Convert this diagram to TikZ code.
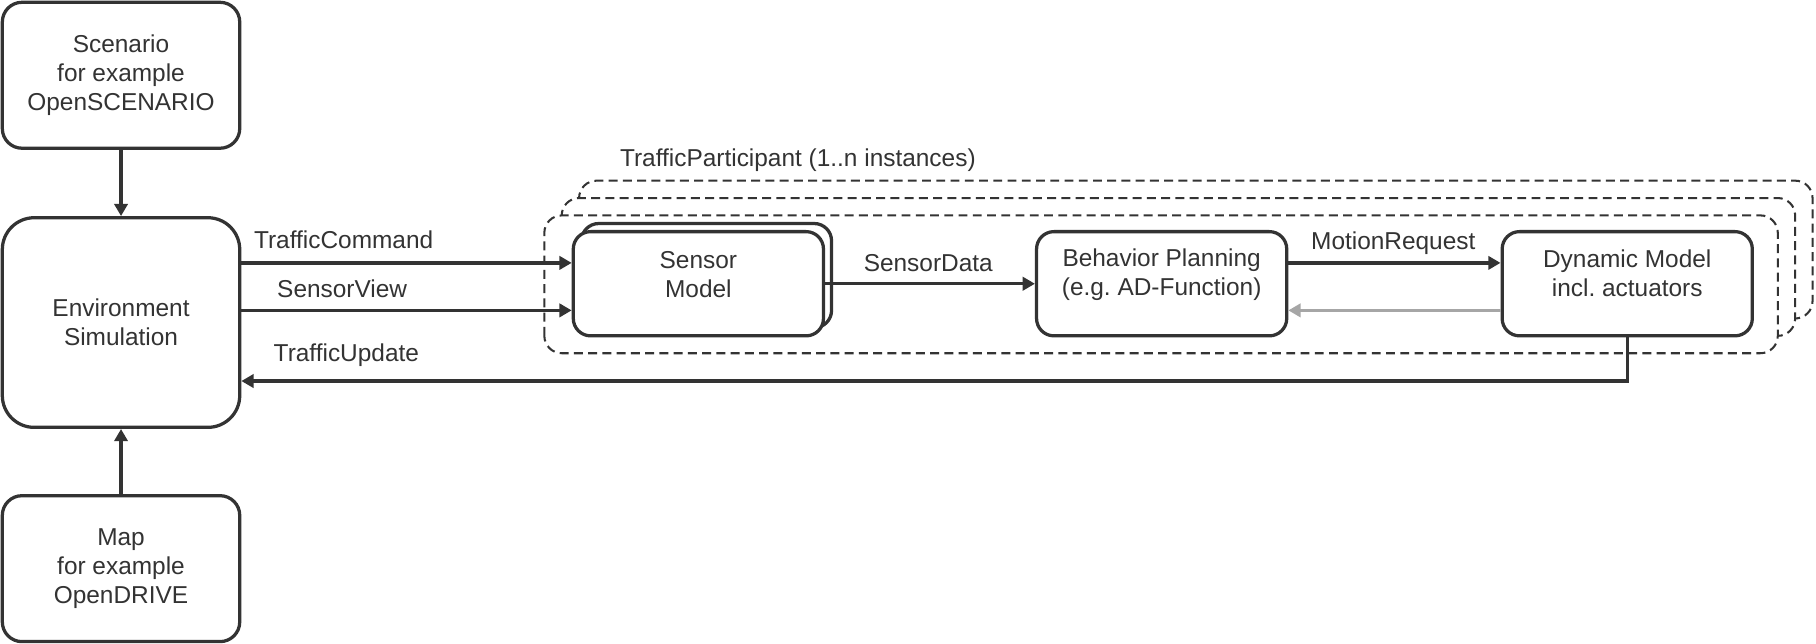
\documentclass[tikz,border=0pt]{standalone}
\usepackage{fontspec}
\setmainfont{Liberation Sans}
\usepackage{xcolor}
\usepackage{tikz}
\usetikzlibrary{arrows.meta, positioning, calc}
\definecolor{scuro}{HTML}{333333}
\definecolor{grigio}{HTML}{A6A6A6}

\begin{document}
\begin{tikzpicture}[
    font=\fontsize{12}{14.2}\selectfont, text=scuro,
    box/.style={draw=scuro,line width=1.6pt,fill=white,rounded corners=0.34cm,minimum width=4.1cm,minimum height=2.52cm,align=center,inner sep=0pt},
    modulo/.style={draw=scuro,line width=1.6pt,fill=white,rounded corners=0.3cm,minimum width=4.32cm,minimum height=1.8cm,inner sep=0pt},
    istanza/.style={draw=scuro,line width=1pt,dash pattern=on 4.4pt off 2.6pt,fill=white,rounded corners=0.3cm},
    arr/.style={draw=scuro,line width=1.6pt,-{Triangle[length=6pt,width=6.5pt]}},
    lbl/.style={anchor=west,inner sep=0pt}
]
    \useasboundingbox (0,0) rectangle (31.36,11.12);

    % Istanze TrafficParticipant
    \foreach \d in {0.6,0.3,0} {
        \draw[istanza] (9.4+\d,5.02+\d) rectangle (30.7+\d,7.4+\d);
    }
    \node[lbl] (tp) at (10.7,8.36) {TrafficParticipant (1..n instances)};

    % Colonna di sinistra
    \node[box] (scen) at (2.09,9.82) {Scenario\\for example\\OpenSCENARIO};
    \node[box,minimum height=3.62cm,rounded corners=0.55cm] (env) at (2.09,5.55) {Environment\\Simulation};
    \node[box] (map) at (2.09,1.30) {Map\\for example\\OpenDRIVE};

    \draw[arr] (scen) -- (env);
    \draw[arr] (map) -- (env);

    % Moduli del partecipante
    \node[modulo] (sensb) at (12.2,6.36) {};
    \node[modulo] (sens) at (12.06,6.22) {};
    \node[align=center] at ([yshift=0.16cm]sens.center) {Sensor\\Model};

    \node[modulo] (beh) at (20.06,6.22) {};
    \node[align=center] at ([yshift=0.16cm]beh.center) {Behavior Planning\\(e.g.\ AD-Function)};

    \node[modulo] (dyn) at (28.1,6.22) {};
    \node[align=center] at ([yshift=0.18cm]dyn.center) {Dynamic Model\\incl.\ actuators};

    % Collegamenti
    \coordinate (tc) at ([yshift=0.36cm]sens.west);
    \coordinate (sv) at ([yshift=-0.46cm]sens.west);
    \draw[arr] (env.east |- tc) -- (tc);
    \draw[arr] (env.east |- sv) -- (sv);
    \node[lbl] at (4.38,6.98) {TrafficCommand};
    \node[lbl] at (4.78,6.14) {SensorView};

    \draw[arr] (sens.east) -- (beh.west);
    \node at (16.03,6.58) {SensorData};

    \coordinate (mr) at ([yshift=0.36cm]beh.east);
    \draw[arr] (mr) -- (dyn.west |- mr);
    \node at (24.06,6.92) {MotionRequest};

    \coordinate (fb) at ([yshift=-0.46cm]dyn.west);
    \draw[arr,draw=grigio] (fb) -- (beh.east |- fb);

    \coordinate (tu) at (28.1,4.54);
    \draw[arr] (dyn.south) |- (env.east |- tu);
    \node[lbl] at (4.72,4.98) {TrafficUpdate};
\end{tikzpicture}
\end{document}
